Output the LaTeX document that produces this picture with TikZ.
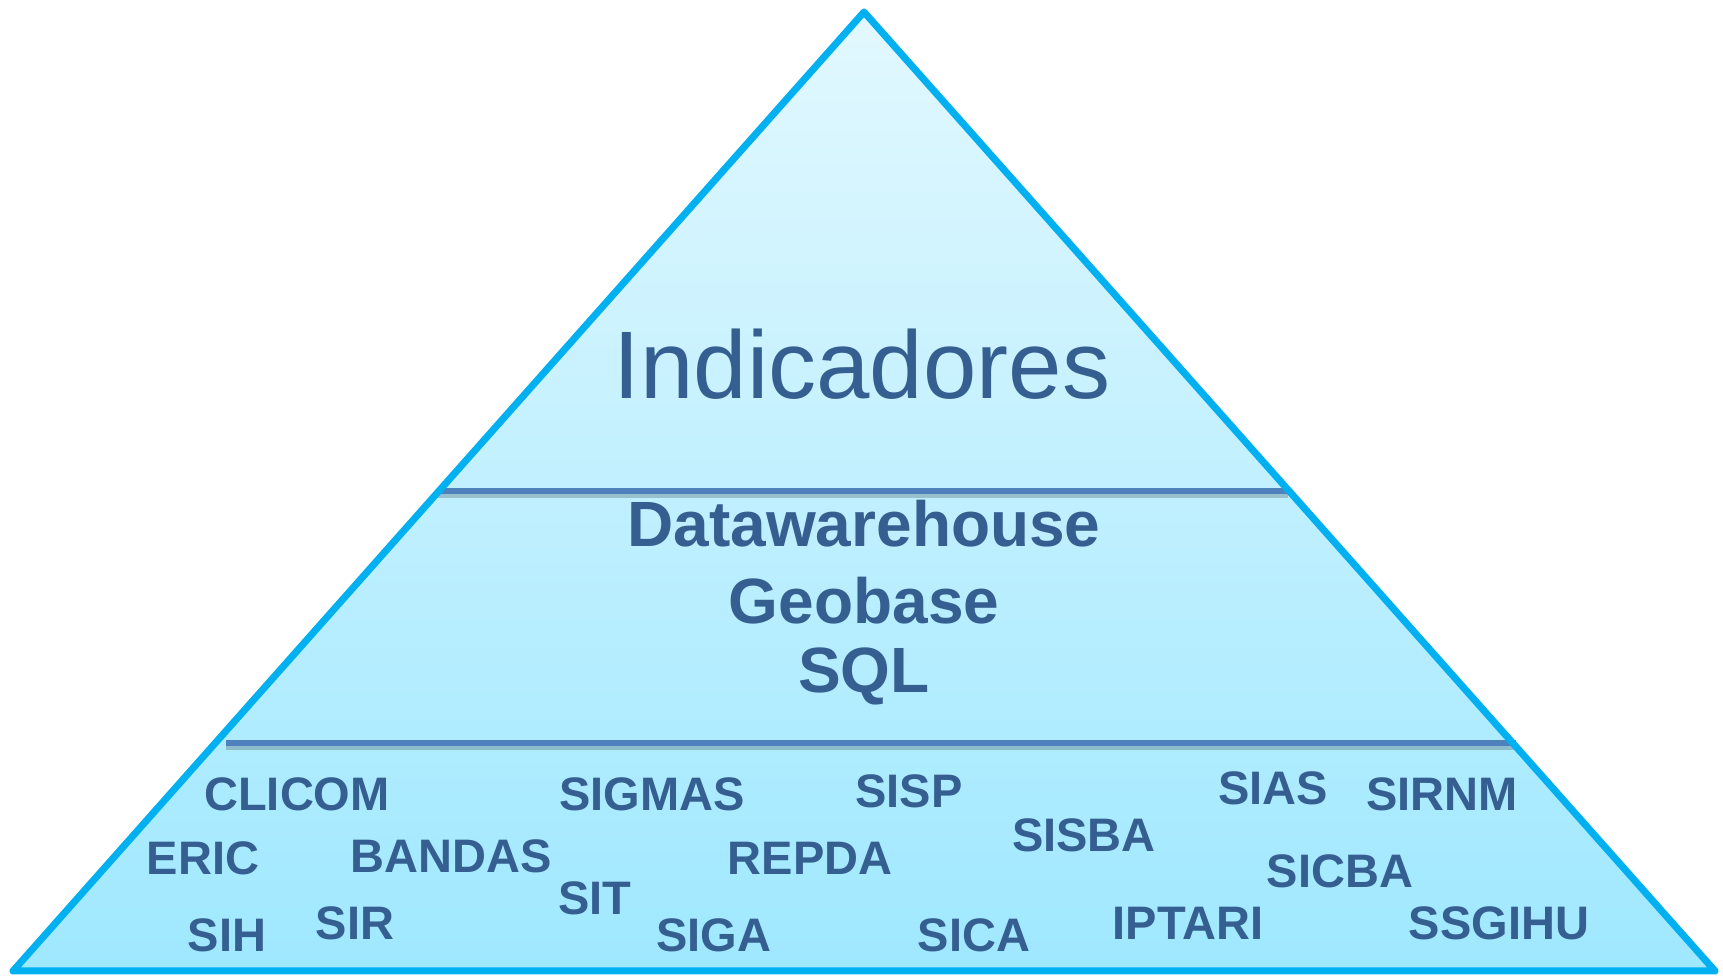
\documentclass[tikz,border=0pt]{standalone}
\usepackage{fontspec}
\setmainfont{Liberation Sans}
\begin{document}
\begin{tikzpicture}[x=1pt,y=1pt,
  lbl/.style={font=\fontsize{47}{47}\selectfont\bfseries, text=txtblue, inner sep=0pt, anchor=center},
  divider/.style={draw=divblue, line width=6.5pt},
  dshadow/.style={draw=black, opacity=0.2, line width=7pt}]
\definecolor{triblue}{HTML}{00B0F0}
\definecolor{txtblue}{HTML}{365F91}
\definecolor{divblue}{HTML}{4F81BD}
\definecolor{topfill}{HTML}{E2F8FE}
\definecolor{botfill}{HTML}{9FE8FF}
\useasboundingbox (0,0) rectangle (1723,976);
\coordinate (apex) at (864,964);
\coordinate (bl) at (13,5);
\coordinate (br) at (1715,5);
\shade[top color=topfill, bottom color=botfill] (apex) -- (br) -- (bl) -- cycle;
% dividers
\coordinate (d1a) at (438,485);
\coordinate (d1b) at (1288,485);
\coordinate (d2a) at (226,233);
\coordinate (d2b) at (1516,233);
\draw[dshadow] ([yshift=-4]d1a) -- ([yshift=-4]d1b);
\draw[dshadow] ([yshift=-4]d2a) -- ([yshift=-4]d2b);
\draw[divider] (d1a) -- (d1b);
\draw[divider] (d2a) -- (d2b);
\draw[triblue, line width=7pt, line join=round] (apex) -- (br) -- (bl) -- cycle;
% texts
\node[font=\fontsize{96}{96}\selectfont, text=txtblue, inner sep=0pt, anchor=base] (ind) at (862,577) {Indicadores};
\node[font=\fontsize{64}{64}\selectfont\bfseries, text=txtblue, inner sep=0pt] (dw) at (864,452) {Datawarehouse};
\node[font=\fontsize{64}{64}\selectfont\bfseries, text=txtblue, inner sep=0pt] (geo) at (864,375) {Geobase};
\node[font=\fontsize{64}{64}\selectfont\bfseries, text=txtblue, inner sep=0pt] (sql) at (864,300) {SQL};
\node[lbl] (clicom) at (297,182) {CLICOM};
\node[lbl] (eric) at (203,118) {ERIC};
\node[lbl] (sih) at (227,41) {SIH};
\node[lbl] (sir) at (355,53) {SIR};
\node[lbl] (bandas) at (451,120) {BANDAS};
\node[lbl] (sigmas) at (652,182) {SIGMAS};
\node[lbl] (sit) at (595,78) {SIT};
\node[lbl] (siga) at (714,41) {SIGA};
\node[lbl] (repda) at (810,118) {REPDA};
\node[lbl] (sisp) at (909,185) {SISP};
\node[lbl] (sica) at (974,41) {SICA};
\node[lbl] (sisba) at (1084,141) {SISBA};
\node[lbl] (iptari) at (1188,53) {IPTARI};
\node[lbl] (sias) at (1273,188) {SIAS};
\node[lbl] (sirnm) at (1442,182) {SIRNM};
\node[lbl] (sicba) at (1340,105) {SICBA};
\node[lbl] (ssgihu) at (1499,53) {SSGIHU};
\end{tikzpicture}
\end{document}
